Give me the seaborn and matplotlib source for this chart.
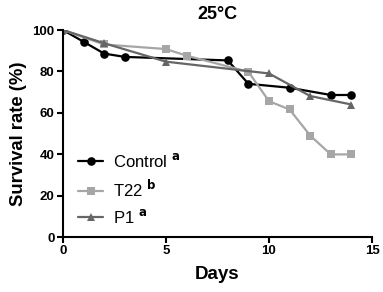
import matplotlib
matplotlib.use("Agg")
import matplotlib.pyplot as plt
import seaborn as sns
import pandas as pd

sns.set_style("ticks")
plt.rcParams['font.family'] = ['Liberation Sans', 'DejaVu Sans']
plt.rcParams['text.color'] = 'black'
plt.rcParams['axes.labelcolor'] = 'black'
plt.rcParams['axes.edgecolor'] = 'black'

control_days = [0, 1, 2, 3, 8, 9, 11, 13, 14]
control_vals = [100, 94.3, 88.6, 87.0, 85.3, 74.0, 72.1, 68.6, 68.6]
t22_days = [0, 2, 5, 6, 9, 10, 11, 12, 13, 14]
t22_vals = [100, 93.0, 90.8, 87.6, 79.8, 65.6, 61.6, 49.0, 39.9, 39.9]
p1_days = [0, 2, 5, 10, 12, 14]
p1_vals = [100, 93.6, 84.7, 79.0, 68.1, 64.0]
labels = ["Control $^{\\mathbf{a}}$", "T22 $^{\\mathbf{b}}$", "P1 $^{\\mathbf{a}}$"]

df = pd.concat([
    pd.DataFrame({"Days": control_days, "Survival": control_vals, "Group": labels[0]}),
    pd.DataFrame({"Days": t22_days, "Survival": t22_vals, "Group": labels[1]}),
    pd.DataFrame({"Days": p1_days, "Survival": p1_vals, "Group": labels[2]}),
])

fig = plt.figure(figsize=(3.83, 2.92), dpi=100)
ax = fig.add_axes([63/383, 1-237/292, (372-63)/383, (237-30)/292])

palette = {labels[0]: "#000000", labels[1]: "#a6a6a6", labels[2]: "#666666"}
markers = {labels[0]: "o", labels[1]: "s", labels[2]: "^"}
sns.lineplot(data=df, x="Days", y="Survival", hue="Group", style="Group",
             hue_order=labels, style_order=labels,
             palette=palette, markers=markers, dashes=False,
             markersize=6.2, linewidth=1.6, markeredgewidth=0, ax=ax, legend=True)

ax.set_xlim(0, 15)
ax.set_ylim(0, 100)
ax.set_xticks([0, 5, 10, 15])
ax.set_yticks([0, 20, 40, 60, 80, 100])
sns.despine(ax=ax)
for s in ["left", "bottom"]:
    ax.spines[s].set_linewidth(1.5)
ax.tick_params(width=1.5, length=4, labelsize=9.5, colors="black", pad=2)
for lab in ax.get_xticklabels() + ax.get_yticklabels():
    lab.set_fontweight("bold")
ax.set_xlabel("Days", fontsize=13.5, fontweight="bold", labelpad=6)
ax.set_ylabel("Survival rate (%)", fontsize=13.3, fontweight="bold", labelpad=4)
ax.set_title("25°C", fontsize=13, fontweight="bold", pad=8)

leg = ax.legend(loc="lower left", bbox_to_anchor=(0.0, -0.02), frameon=False,
                fontsize=12, handlelength=1.5, handletextpad=0.6, labelspacing=0.5)

fig.savefig("out.png", dpi=100)
